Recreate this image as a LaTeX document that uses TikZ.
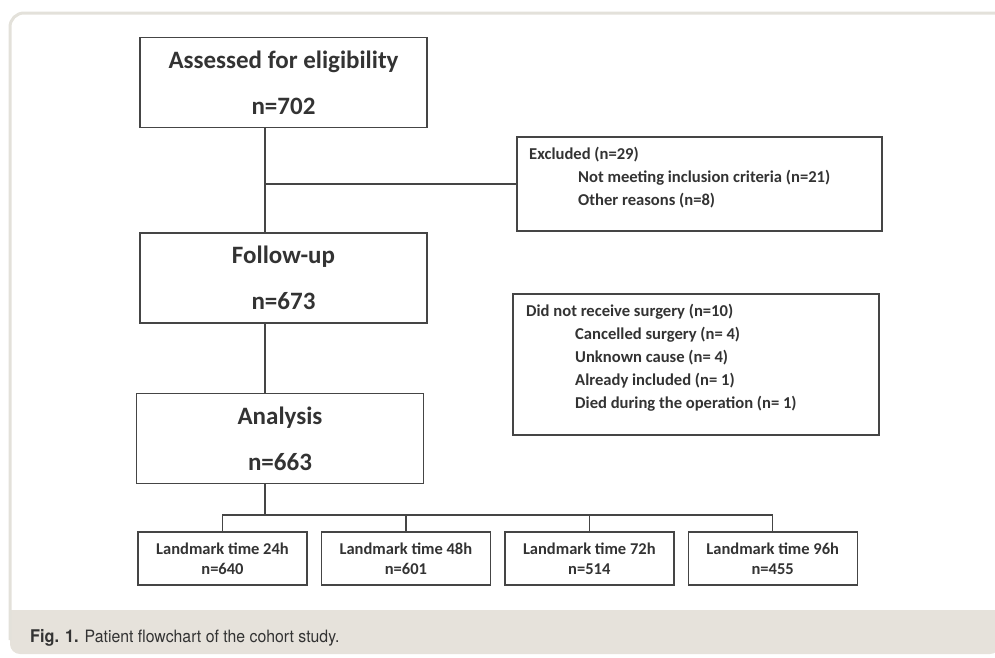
\documentclass[tikz,border=0pt]{standalone}
\usepackage{fontspec}
\setmainfont{Carlito}
\newfontfamily\capfont{TeX Gyre Heros}[FakeStretch=0.93]
\usetikzlibrary{positioning}

\definecolor{linegray}{HTML}{454545}
\definecolor{textgray}{HTML}{333333}
\definecolor{panelgray}{HTML}{E3E1DA}
\definecolor{bandgray}{HTML}{E6E2DB}

\tikzset{
	stagebox/.style={draw=linegray, line width=1.4pt, minimum width=287pt, minimum height=90pt,
		align=center, text=textgray, font=\bfseries\fontsize{25}{46}\selectfont},
	notebox/.style={draw=linegray, line width=1.4pt},
	notetxt/.style={anchor=west, align=left, inner sep=0pt, text=textgray,
		font=\bfseries\fontsize{16.6}{23}\selectfont},
	timebox/.style={draw=linegray, line width=1.4pt, minimum width=169pt, minimum height=53pt,
		align=center, text=textgray, font=\bfseries\fontsize{16.5}{20}\selectfont},
	conn/.style={draw=linegray, line width=1.4pt},
}

\begin{document}
\begin{tikzpicture}[x=1pt, y=-1pt]
	\useasboundingbox (0,0) rectangle (995,657);

	% panel and caption band
	\fill[bandgray] (10,610) rectangle (1000,640);
	\fill[bandgray, rounded corners=10pt] (10,625) rectangle (1000,654);
	\draw[panelgray, line width=3pt, rounded corners=14pt] (10,640) -- (10,13) -- (1000,13);
	\node[anchor=base west, text=textgray, inner sep=0pt] (figcap) at (30,642)
		{\capfont\fontsize{17.5}{17.5}\selectfont\bfseries Fig. 1.\hspace{6pt}\fontsize{17}{17}\selectfont\mdseries Patient flowchart of the cohort study.};

	% main column
	\node[stagebox] (assess) at (283.5,82.5) {Assessed for eligibility\\n=702};
	\node[stagebox] (follow) at (283.5,278) {Follow-up\\n=673};
	\node[stagebox] (analysis) at (280,438.5) {Analysis\\n=663};

	% side notes
	\node[notebox, minimum width=365pt, minimum height=94pt] (excl) at (699.5,184) {};
	\node[notetxt] (excltxt) at (529,178)
		{Excluded (n=29)\\
		\hspace{49pt}Not meeting inclusion criteria (n=21)\\
		\hspace{49pt}Other reasons (n=8)};
	\node[notebox, minimum width=366pt, minimum height=141pt] (nosurg) at (696,364.5) {};
	\node[notetxt] (nosurgtxt) at (526,358)
		{Did not receive surgery (n=10)\\
		\hspace{49pt}Cancelled surgery (n= 4)\\
		\hspace{49pt}Unknown cause (n= 4)\\
		\hspace{49pt}Already included (n= 1)\\
		\hspace{49pt}Died during the operation (n= 1)};

	% landmark boxes
	\node[timebox] (lm24) at (222.5,558.5) {Landmark time 24h\\n=640};
	\node[timebox, right=13pt of lm24] (lm48) {Landmark time 48h\\n=601};
	\node[timebox, right=13pt of lm48] (lm72) {Landmark time 72h\\n=514};
	\node[timebox, right=13pt of lm72] (lm96) {Landmark time 96h\\n=455};

	% connectors
	\coordinate (spine) at (265,0);
	\coordinate (bus) at (0,515);
	\draw[conn] (assess.south -| spine) -- (follow.north -| spine);
	\draw[conn] (excl.west -| spine) -- (excl.west);
	\draw[conn] (follow.south -| spine) -- (analysis.north -| spine);
	\draw[conn] (analysis.south -| spine) -- (bus -| spine);
	\draw[conn] (lm24.north) -- (lm24.north |- bus) -- (lm96.north |- bus) -- (lm96.north);
	\foreach \t in {lm48, lm72}
		\draw[conn] (\t.north) -- (\t.north |- bus);
\end{tikzpicture}
\end{document}
